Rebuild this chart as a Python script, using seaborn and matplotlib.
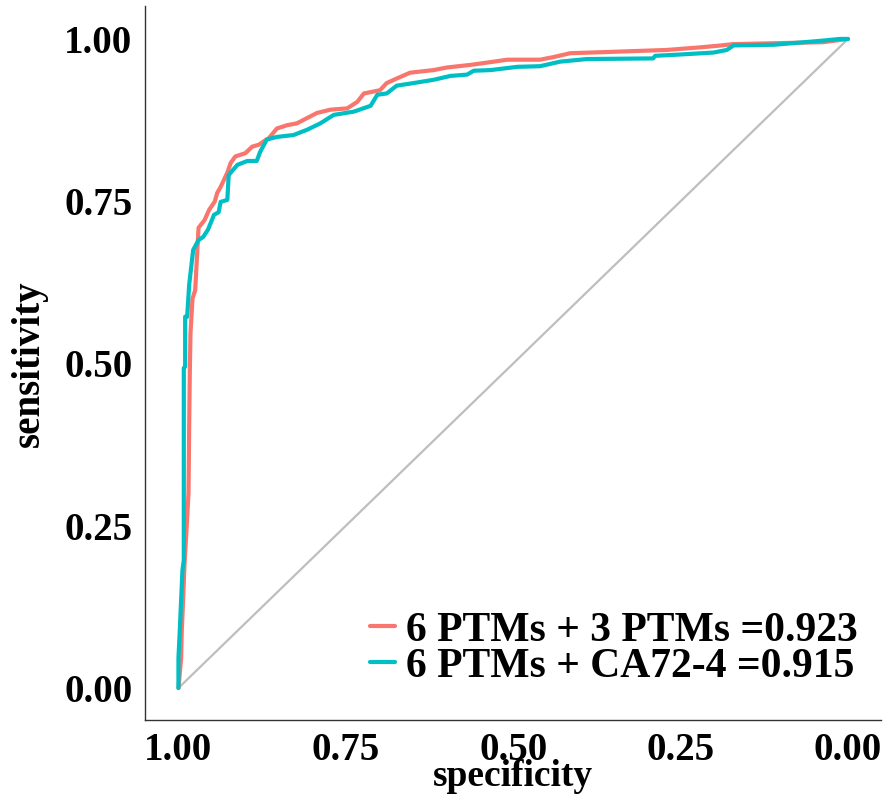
import numpy as np
import pandas as pd
import seaborn as sns
import matplotlib.pyplot as plt

# ROC curves (specificity, sensitivity)
labels = ['6 PTMs + 3 PTMs =0.923', '6 PTMs + CA72-4 =0.915']
colors = ['#F8766D', '#00BFC4']

spec_ptm = [1.000, 0.996, 0.995, 0.993, 0.991, 0.988, 0.985, 0.984, 0.983, 0.982,
            0.979, 0.975, 0.972, 0.970, 0.961, 0.954, 0.946, 0.942, 0.937, 0.927,
            0.922, 0.915, 0.900, 0.890, 0.880, 0.870, 0.865, 0.853, 0.838, 0.823,
            0.808, 0.793, 0.773, 0.748, 0.733, 0.723, 0.699, 0.689, 0.674, 0.654,
            0.619, 0.599, 0.564, 0.529, 0.509, 0.460, 0.440, 0.415, 0.355, 0.271,
            0.221, 0.189, 0.172, 0.037, 0.000]
sens_ptm = [0.000, 0.046, 0.089, 0.136, 0.190, 0.243, 0.300, 0.400, 0.490, 0.547,
            0.600, 0.613, 0.670, 0.709, 0.721, 0.737, 0.749, 0.763, 0.772, 0.794,
            0.809, 0.819, 0.824, 0.834, 0.837, 0.844, 0.847, 0.862, 0.867, 0.870,
            0.878, 0.886, 0.891, 0.893, 0.903, 0.916, 0.921, 0.932, 0.939, 0.948,
            0.952, 0.956, 0.960, 0.965, 0.968, 0.968, 0.972, 0.978, 0.980, 0.983,
            0.987, 0.990, 0.992, 0.995, 1.000]

spec_ca = [1.000, 1.000, 0.998, 0.996, 0.994, 0.992, 0.992, 0.990, 0.990, 0.987,
           0.984, 0.980, 0.978, 0.970, 0.963, 0.956, 0.950, 0.947, 0.940, 0.937,
           0.927, 0.925, 0.922, 0.912, 0.897, 0.883, 0.878, 0.868, 0.853, 0.828,
           0.808, 0.788, 0.768, 0.738, 0.713, 0.703, 0.689, 0.674, 0.649, 0.619,
           0.594, 0.569, 0.559, 0.534, 0.494, 0.460, 0.430, 0.390, 0.291, 0.288,
           0.251, 0.201, 0.181, 0.171, 0.111, 0.042, 0.012, 0.000]
sens_ca = [0.000, 0.046, 0.089, 0.136, 0.182, 0.197, 0.493, 0.495, 0.572, 0.572,
           0.621, 0.657, 0.675, 0.690, 0.695, 0.706, 0.721, 0.729, 0.733, 0.749,
           0.752, 0.790, 0.794, 0.806, 0.812, 0.812, 0.826, 0.845, 0.849, 0.852,
           0.860, 0.870, 0.883, 0.888, 0.897, 0.914, 0.916, 0.928, 0.932, 0.937,
           0.943, 0.945, 0.951, 0.952, 0.957, 0.958, 0.965, 0.969, 0.970, 0.974,
           0.976, 0.979, 0.983, 0.990, 0.991, 0.997, 1.000, 1.000]

ticks = [1.00, 0.75, 0.50, 0.25, 0.00]
tick_labels = ['1.00', '0.75', '0.50', '0.25', '0.00']

# %%
df = pd.concat([
    pd.DataFrame({'specificity': spec_ptm, 'sensitivity': sens_ptm, 'model': labels[0]}),
    pd.DataFrame({'specificity': spec_ca, 'sensitivity': sens_ca, 'model': labels[1]}),
], ignore_index=True)

sns.set_style('white')
plt.rcParams['font.family'] = ['Liberation Serif', 'DejaVu Serif']
plt.rcParams['font.weight'] = 'bold'
plt.rcParams['text.color'] = 'black'
plt.rcParams['axes.labelcolor'] = 'black'

fig = plt.figure(figsize=(8.96, 8.0), dpi=100)
ax = fig.add_axes([0.1618, 0.0994, 0.822, 0.8925])

ax.plot([1, 0], [0, 1], color='#BEBEBE', lw=1.6, zorder=1)
sns.lineplot(data=df, x='specificity', y='sensitivity', hue='model',
             palette=colors, hue_order=labels, sort=False, estimator=None,
             units='model', lw=3.0, ax=ax, zorder=2)

ax.set_xlim(1.05, -0.05)
ax.set_ylim(-0.05, 1.05)
ax.set_xticks(ticks)
ax.set_xticklabels(tick_labels)
ax.set_yticks(ticks[::-1])
ax.set_yticklabels(tick_labels[::-1])
ax.tick_params(axis='both', direction='out', length=4, width=1, color='#333333',
               labelsize=28, labelcolor='black')
ax.tick_params(axis='x', pad=4)
ax.tick_params(axis='y', pad=5)
for lab in ax.get_xticklabels() + ax.get_yticklabels():
    lab.set_fontweight('bold')

ax.set_xlabel('specificity', fontsize=27, fontweight='bold')
ax.xaxis.set_label_coords(0.5, -0.054)
ax.set_ylabel('sensitivity', fontsize=28, fontweight='bold', labelpad=12)

for side in ['top', 'right']:
    ax.spines[side].set_visible(False)
for side in ['left', 'bottom']:
    ax.spines[side].set_color('#333333')
    ax.spines[side].set_linewidth(1.0)

handles, _ = ax.get_legend_handles_labels()
leg = ax.legend(handles, labels, loc='lower right', bbox_to_anchor=(0.99, 0.025),
                frameon=False, fontsize=30, handlelength=0.6, handletextpad=0.25,
                labelspacing=-0.05, borderaxespad=0)
for t in leg.get_texts():
    t.set_fontweight('bold')
    t.set_color('black')
for h in leg.legend_handles:
    h.set_linewidth(3.0)

fig.savefig('out.png', dpi=100)
